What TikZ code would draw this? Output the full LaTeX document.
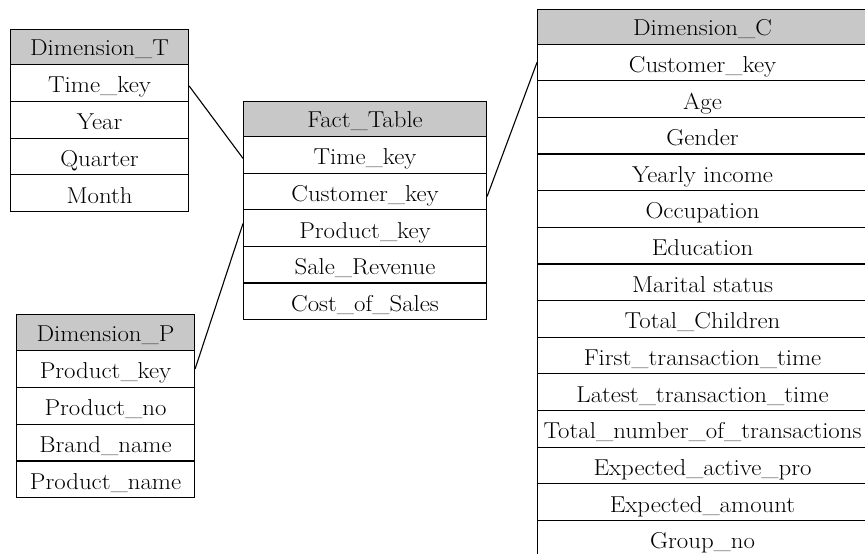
\documentclass[tikz,border=0pt]{standalone}
\usepackage{fontspec}
\setmainfont{Latin Modern Roman}[FakeStretch=1.08]
\definecolor{headgray}{RGB}{200,200,200}
\tikzset{
  cell/.style={draw=black, line width=1.1pt, rectangle, inner sep=0pt, anchor=north west,
    text height=20pt, text depth=0pt,
    font=\fontsize{23}{25}\selectfont},
  head/.style={cell, fill=headgray, text height=17pt},
  link/.style={line width=1.1pt}
}
\begin{document}
\begin{tikzpicture}[x=1pt,y=-1pt]
\useasboundingbox (0,0) rectangle (865,554);
% Dimension_T
\node[head, minimum width=178pt, minimum height=35pt] (T0) at (10,29) {Dimension\_T};
\foreach \lbl [count=\i] in {Time\_key,Year,Quarter,Month}
  \node[cell, minimum width=178pt, minimum height=36.75pt] (T\i) at (10,{64+(\i-1)*36.75}) {\lbl};
% Fact_Table
\node[head, minimum width=243pt, minimum height=35.5pt] (F0) at (243,100.5) {Fact\_Table};
\foreach \lbl [count=\i] in {Time\_key,Customer\_key,Product\_key,Sale\_Revenue,Cost\_of\_Sales}
  \node[cell, minimum width=243pt, minimum height=36.6pt] (F\i) at (243,{136+(\i-1)*36.6}) {\lbl};
% Dimension_P
\node[head, minimum width=178pt, minimum height=36pt] (P0) at (16,314) {Dimension\_P};
\foreach \lbl [count=\i] in {Product\_key,Product\_no,Brand\_name,Product\_name}
  \node[cell, minimum width=178pt, minimum height=36.8pt] (P\i) at (16,{350+(\i-1)*36.8}) {\lbl};
% Dimension_C
\node[head, minimum width=330pt, minimum height=34.5pt] (C0) at (537,9) {Dimension\_C};
\foreach \lbl [count=\i] in {Customer\_key,Age,Gender,Yearly income,Occupation,Education,Marital status,Total\_Children,First\_transaction\_time,Latest\_transaction\_time,Total\_number\_of\_transactions,Expected\_active\_pro,Expected\_amount,Group\_no}
  \node[cell, minimum width=330pt, minimum height=36.65pt] (C\i) at (537,{43.5+(\i-1)*36.65}) {\lbl};
% connectors
\draw[link] ([yshift=-3pt]T1.east) -- ([yshift=-3.5pt]F1.west);
\draw[link] ([yshift=-5pt]F2.east) -- (C1.west);
\draw[link] ([yshift=4.5pt]F3.west) -- (P1.east);
\end{tikzpicture}
\end{document}
